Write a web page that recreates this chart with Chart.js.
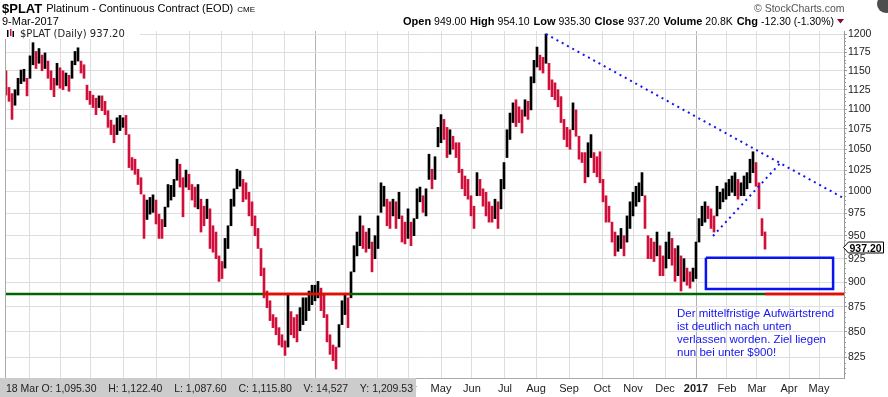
<!DOCTYPE html>
<html>
<head>
<meta charset="utf-8">
<script src="https://cdn.jsdelivr.net/npm/chart.js@4.4.1/dist/chart.umd.min.js"></script>
<style>
  html, body { margin: 0; padding: 0; background: #fff; }
  canvas { display: block; }
</style>
</head>
<body>
<canvas id="platChart" width="888" height="397"></canvas>
<script>
// one bar = two trading days, Mar 2015 .. 9 Mar 2017
const highs = [
  1150, 1128, 1120, 1125, 1140, 1151, 1152, 1140, 1170, 1188, 1176, 1180, 1171, 1174, 1163, 1150, 1140, 1160, 1154, 1150,
  1147, 1144, 1163, 1176, 1181, 1163, 1158, 1131, 1123, 1118, 1114, 1117, 1117, 1110, 1098, 1086, 1080, 1089, 1092, 1089,
  1092, 1068, 1040, 1038, 1026, 1016, 996, 990, 993, 996, 990, 974, 968, 982, 1008, 1007, 1014, 1038, 1032, 1016,
  1025, 1020, 1008, 1005, 1008, 991, 983, 991, 980, 961, 954, 928, 922, 947, 961, 991, 1003, 1026, 1024, 1014,
  1010, 999, 988, 972, 958, 936, 915, 891, 881, 867, 864, 854, 847, 841, 887, 870, 864, 867, 874, 884,
  884, 891, 897, 897, 901, 894, 887, 867, 847, 837, 835, 857, 881, 887, 884, 911, 939, 954, 972, 961,
  954, 958, 943, 950, 972, 1010, 1006, 991, 988, 991, 988, 999, 972, 965, 980, 965, 969, 1003, 1005, 995,
  1003, 1044, 1026, 1041, 1077, 1093, 1087, 1077, 1074, 1066, 1058, 1058, 1026, 1018, 1014, 995, 983, 1022, 1014, 1003,
  999, 988, 983, 991, 988, 1014, 1034, 1074, 1095, 1108, 1112, 1103, 1099, 1112, 1110, 1142, 1164, 1182, 1171, 1168,
  1200, 1160, 1138, 1134, 1125, 1116, 1087, 1077, 1074, 1108, 1099, 1066, 1046, 1046, 1058, 1068, 1046, 1041, 1047, 1014,
  995, 983, 965, 954, 950, 958, 950, 972, 988, 999, 1006, 1010, 1022, 995, 950, 947, 943, 954, 939, 928,
  943, 954, 947, 936, 939, 928, 925, 915, 911, 915, 943, 969, 983, 988, 983, 980, 972, 1006, 999, 1003,
  1010, 1014, 1018, 1022, 1014, 1010, 1018, 1022, 1038, 1047, 1034, 1010, 969, 954.1
];
const lows = [
  1118, 1110, 1087, 1105, 1118, 1133, 1136, 1117, 1140, 1158, 1153, 1160, 1150, 1153, 1140, 1125, 1116, 1131, 1127, 1125,
  1130, 1123, 1140, 1158, 1163, 1147, 1140, 1112, 1106, 1102, 1093, 1102, 1098, 1093, 1077, 1068, 1058, 1068, 1073, 1077,
  1068, 1028, 1025, 1020, 1008, 997, 947, 968, 974, 976, 963, 947, 947, 960, 982, 990, 994, 1013, 1005, 971,
  1005, 1002, 990, 982, 980, 954, 961, 969, 936, 932, 925, 901, 904, 915, 936, 961, 983, 1003, 1006, 988,
  991, 972, 961, 950, 936, 907, 884, 874, 861, 854, 847, 837, 835, 827, 835, 847, 844, 840, 851, 857,
  861, 871, 877, 881, 884, 871, 864, 840, 828, 822, 814, 835, 857, 867, 854, 884, 911, 928, 939, 936,
  932, 936, 911, 925, 936, 976, 983, 961, 958, 972, 958, 969, 943, 941, 947, 939, 950, 969, 988, 976,
  972, 1014, 1003, 1014, 1053, 1058, 1062, 1040, 1044, 1050, 1040, 1022, 1003, 995, 991, 972, 958, 995, 995, 983,
  972, 965, 965, 969, 958, 980, 1003, 1040, 1062, 1083, 1078, 1083, 1070, 1091, 1087, 1099, 1134, 1155, 1151, 1147,
  1160, 1125, 1116, 1112, 1103, 1083, 1062, 1053, 1050, 1074, 1066, 1038, 1034, 1010, 1017, 1040, 1022, 1017, 1010, 988,
  965, 965, 943, 928, 933, 936, 928, 943, 958, 972, 983, 988, 995, 958, 925, 925, 922, 928, 907, 907,
  915, 925, 918, 901, 907, 891, 901, 897, 894, 901, 904, 943, 961, 965, 969, 958, 954, 972, 980, 988,
  991, 995, 999, 995, 991, 995, 995, 1003, 1010, 1022, 1006, 980, 950, 935.3
];

// month gridlines, in bar units
const monthTicks = [7.67, 18.33, 28.33, 39.33, 50.33, 61, 71.67, 82.33, 92.67, 103.33, 113.33, 123.67, 134,
  145, 155.33, 166.33, 176.67, 187.67, 198.67, 209, 219.67, 230, 240.33, 250.33, 261, 271];
const monthLabels = ['Apr', 'May', 'Jun', 'Jul', 'Aug', 'Sep', 'Oct', 'Nov', 'Dec', '2016', 'Feb', 'Mar', 'Apr',
  'May', 'Jun', 'Jul', 'Aug', 'Sep', 'Oct', 'Nov', 'Dec', '2017', 'Feb', 'Mar', 'Apr', 'May'];
const priceTicks = [825, 850, 875, 900, 925, 950, 975, 1000, 1025, 1050, 1075, 1100, 1125, 1150, 1175, 1200];

const lastClose = 937.20;
const supportLevel = 888;
const trendDown = [{ x: 180, y: 1200 }, { x: 279.33, y: 992 }];
const trendUp = [{ x: 235.67, y: 949.7 }, { x: 258, y: 1033 }];
const redSpans = [[85.67, 114.67], [253, 279.33]];
const targetBox = [{ x: 233.3, y: 926 }, { x: 275.7, y: 926 }, { x: 275.7, y: 893 }, { x: 233.3, y: 893 }, { x: 233.3, y: 926 }];

const FONT = "'Liberation Sans', Arial, sans-serif";
const RED = '#d0103a';
const BLUE = '#1414f0';

const barData = highs.map((h, i) => ({ x: i, y: [lows[i], h] }));
const barColors = highs.map((h, i) => {
    if (i === 0) return RED;
    const mid = (h + lows[i]) / 2;
    const prev = (highs[i - 1] + lows[i - 1]) / 2;
    return mid >= prev ? '#000000' : RED;
});

function lineSet(data, color, width, dash) {
    return {
        type: 'line', data: data, borderColor: color, borderWidth: width,
        borderDash: dash || [], pointRadius: 0, tension: 0, fill: false,
        borderCapStyle: 'butt', borderJoinStyle: 'miter'
    };
}

const overlayPlugin = {
    id: 'overlay',
    afterDraw(chart) {
        const c = chart.ctx;
        const area = chart.chartArea;
        const ys = chart.scales.y;
        c.save();

        // frame
        c.strokeStyle = '#aaaaaa';
        c.lineWidth = 1;
        c.beginPath();
        c.moveTo(area.left + 0.5, area.top);
        c.lineTo(area.left + 0.5, area.bottom + 0.5);
        c.lineTo(area.right, area.bottom + 0.5);
        c.stroke();

        // minor ticks on the price axis
        c.strokeStyle = '#999999';
        for (let v = 810; v <= 1200; v += 5) {
            if (v % 25 === 0) continue;
            const y = Math.round(ys.getPixelForValue(v)) + 0.5;
            c.beginPath();
            c.moveTo(area.right, y);
            c.lineTo(area.right + 2, y);
            c.stroke();
        }

        // header
        c.textBaseline = 'alphabetic';
        c.fillStyle = '#000';
        c.font = 'bold 13px ' + FONT;
        c.fillText('$PLAT', 2, 13);
        let hx = 2 + c.measureText('$PLAT').width + 4;
        c.font = '11px ' + FONT;
        c.fillText('Platinum - Continuous Contract (EOD)', hx, 12);
        hx += c.measureText('Platinum - Continuous Contract (EOD)').width + 4;
        c.font = '8px ' + FONT;
        c.fillText('CME', hx, 12);
        c.font = '11px ' + FONT;
        c.fillText('9-Mar-2017', 2, 25);

        const quote = [
            ['Open', '949.00'], ['High', '954.10'], ['Low', '935.30'],
            ['Close', '937.20'], ['Volume', '20.8K'], ['Chg', '-12.30 (-1.30%)']
        ];
        const labFont = 'bold 11px ' + FONT;
        const valFont = '10.5px ' + FONT;
        let total = 0;
        const sizes = quote.map(q => {
            c.font = labFont; const a = c.measureText(q[0]).width;
            c.font = valFont; const b = c.measureText(q[1]).width;
            total += a + b + 3;
            return [a, b];
        });
        const qGap = (834 - 403 - total) / (quote.length - 1);
        let qx = 403;
        quote.forEach((q, i) => {
            c.font = labFont;
            c.fillText(q[0], qx, 25);
            qx += sizes[i][0] + 3;
            c.font = valFont;
            c.fillText(q[1], qx, 25);
            qx += sizes[i][1] + qGap;
        });
        c.fillStyle = '#8b0a2a';
        c.beginPath();
        c.moveTo(837, 19); c.lineTo(844, 19); c.lineTo(840.5, 23.5); c.closePath();
        c.fill();

        c.fillStyle = '#555';
        c.font = '10.5px ' + FONT;
        c.fillText('\u00a9 StockCharts.com', 754, 12);

        c.fillStyle = '#4d4d4d';
        c.beginPath();
        c.arc(886, 4, 9, 0, Math.PI * 2);
        c.fill();

        // legend label inside plot
        c.fillStyle = '#fff';
        c.fillRect(4, 28, 136, 11);
        c.fillStyle = '#000';
        c.fillRect(7, 30, 1.5, 7);
        c.fillStyle = RED;
        c.fillRect(10, 29, 1.5, 7);
        c.fillStyle = '#000';
        c.fillRect(12.5, 31, 1.5, 6);
        c.fillStyle = '#222';
        c.font = "10px 'DejaVu Sans', sans-serif";
        c.fillText('$PLAT (Daily) 937.20', 20, 37);

        // annotation text
        c.fillStyle = BLUE;
        c.font = '11.5px ' + FONT;
        ['Der mittelfristige Aufw\u00e4rtstrend', 'ist deutlich nach unten',
         'verlassen worden. Ziel liegen', 'nun bei unter $900!'].forEach((t, i) => {
            c.fillText(t, 677, 317 + i * 13);
        });

        // last price marker
        const py = Math.round(ys.getPixelForValue(lastClose)) + 0.5;
        c.fillStyle = '#fff';
        c.strokeStyle = '#000';
        c.beginPath();
        c.moveTo(843.5, py);
        c.lineTo(848.5, py - 5.5);
        c.lineTo(883.5, py - 5.5);
        c.lineTo(883.5, py + 5.5);
        c.lineTo(848.5, py + 5.5);
        c.closePath();
        c.fill();
        c.stroke();
        c.fillStyle = '#000';
        c.font = 'bold 10.5px ' + FONT;
        c.fillText(lastClose.toFixed(2), 849.5, py + 4);

        // hover readout bar at the bottom
        c.fillStyle = '#cccccc';
        c.fillRect(0, 378, 416, 19);
        c.fillStyle = '#222';
        c.font = '10.5px ' + FONT;
        const parts = ['18 Mar O: 1,095.30', 'H: 1,122.40', 'L: 1,087.60', 'C: 1,115.80', 'V: 14,527', 'Y: 1,209.53'];
        const widths = parts.map(p => c.measureText(p).width);
        const gap = (407 - widths.reduce((a, b) => a + b, 0)) / (parts.length - 1);
        let x = 6;
        parts.forEach((p, i) => {
            c.fillText(p, x, 392);
            x += widths[i] + gap;
        });
        c.restore();
    }
};

const ctx = document.getElementById('platChart').getContext('2d');
new Chart(ctx, {
    type: 'bar',
    data: {
        datasets: [
            lineSet(trendDown, BLUE, 2, [2, 4]),
            lineSet(trendUp, BLUE, 2, [2, 4]),
            lineSet(targetBox, '#0a14f0', 2.5),
            lineSet([{ x: redSpans[0][0], y: supportLevel }, { x: redSpans[0][1], y: supportLevel }], '#ff0000', 2.5),
            lineSet([{ x: redSpans[1][0], y: supportLevel }, { x: redSpans[1][1], y: supportLevel }], '#ff0000', 2.5),
            lineSet([{ x: -0.33, y: supportLevel }, { x: 279.33, y: supportLevel }], '#006400', 2.5),
            {
                type: 'bar',
                data: barData,
                backgroundColor: barColors,
                barThickness: 2,
                borderWidth: 0
            }
        ]
    },
    options: {
        responsive: false,
        animation: false,
        layout: { padding: { left: 5, top: 31, right: 0, bottom: 0 } },
        plugins: { legend: { display: false }, tooltip: { enabled: false } },
        scales: {
            x: {
                type: 'linear',
                offset: false,
                min: -1 / 3,
                max: 279 + 1 / 3,
                afterBuildTicks: s => { s.ticks = monthTicks.map(v => ({ value: v })); },
                afterFit: s => { s.height = 19; },
                border: { display: false },
                grid: {
                    offset: false,
                    drawTicks: false,
                    color: c => (c.tick && (c.tick.value === 103.33 || c.tick.value === 230)) ? '#b4b4b4' : '#dedede'
                },
                ticks: {
                    autoSkip: false,
                    maxRotation: 0,
                    padding: 4,
                    color: '#222',
                    font: c => ({ family: FONT, size: 11, weight: monthLabels[c.index] === '2017' ? 'bold' : 'normal' }),
                    callback: (v, i) => monthLabels[i]
                }
            },
            y: {
                type: 'logarithmic',
                position: 'right',
                min: 805.6,
                max: 1204.2,
                afterBuildTicks: s => { s.ticks = priceTicks.map(v => ({ value: v })); },
                afterFit: s => { s.width = 44; },
                border: { display: true, color: '#999999' },
                grid: { color: '#dedede', tickLength: 3, tickColor: '#999999' },
                ticks: {
                    autoSkip: false,
                    padding: 1,
                    color: '#222',
                    font: { family: FONT, size: 10.5 },
                    callback: v => String(v)
                }
            }
        }
    },
    plugins: [overlayPlugin]
});
</script>
</body>
</html>
